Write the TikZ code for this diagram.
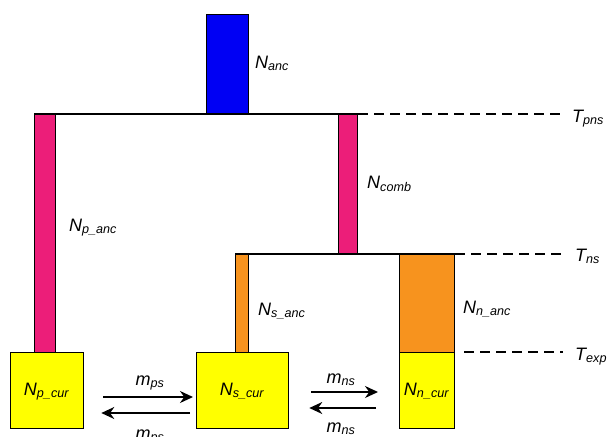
\documentclass[tikz,border=0pt]{standalone}
\usepackage{fontspec}
\setmainfont{Liberation Sans}
\usetikzlibrary{arrows.meta}
\definecolor{ancplava}{HTML}{0000F4}
\definecolor{roza}{HTML}{EC1E79}
\definecolor{narandzasta}{HTML}{F7931E}
\definecolor{zuta}{HTML}{FFFF00}
\newcommand{\popsym}[2]{\textit{#1\textsubscript{#2}}}

\begin{document}
\begin{tikzpicture}[
  x=1pt, y=-1pt,
  bar/.style={rectangle, draw=black, line width=1.3pt, inner sep=0pt, anchor=north west},
  lbl/.style={inner sep=0pt, anchor=base west, font=\fontsize{18}{21}\selectfont},
  mlbl/.style={inner sep=0pt, anchor=base, font=\fontsize{18}{21}\selectfont},
  veza/.style={line width=1.3pt},
  vreme/.style={line width=1.3pt, dash pattern=on 10pt off 6pt},
  mig/.style={line width=1.4pt, -{Stealth[length=13pt, width=12pt]}}
]
\useasboundingbox (0,0) rectangle (609,436);

% ancestral and intermediate populations
\node[bar, fill=ancplava, minimum width=42pt, minimum height=100pt] (anc) at (206,14) {};
\node[bar, fill=roza, minimum width=21pt, minimum height=238pt] (panc) at (34,114) {};
\node[bar, fill=roza, minimum width=19pt, minimum height=140pt] (comb) at (338,114) {};
\node[bar, fill=narandzasta, minimum width=13pt, minimum height=98pt] (sanc) at (235,254) {};
\node[bar, fill=narandzasta, minimum width=55pt, minimum height=98pt] (nanc) at (399,254) {};

% current populations
\node[bar, fill=zuta, minimum width=73pt, minimum height=76pt] (pcur) at (10,352) {};
\node[bar, fill=zuta, minimum width=92pt, minimum height=76pt] (scur) at (196,352) {};
\node[bar, fill=zuta, minimum width=55pt, minimum height=76pt] (ncur) at (399,352) {};

\draw[veza] (panc.north west) -- (comb.north east);
\draw[veza] (sanc.north west) -- (nanc.north east);

% labels
\node[lbl] (lanc) at (255,68) {\popsym{N}{anc}};
\node[lbl] (lpanc) at (69,231) {\popsym{N}{p\_anc}};
\node[lbl] (lcomb) at (367,188) {\popsym{N}{comb}};
\node[lbl] (lsanc) at (258,315) {\popsym{N}{s\_anc}};
\node[lbl] (lnanc) at (463,313) {\popsym{N}{n\_anc}};
\node[mlbl] (lpcur) at (46.5,395) {\popsym{N}{p\_cur}};
\node[mlbl] (lscur) at (242,395) {\popsym{N}{s\_cur}};
\node[mlbl] (lncur) at (426.5,395) {\popsym{N}{n\_cur}};

% times
\node[lbl] (tpns) at (572,122) {\popsym{T}{pns}};
\node[lbl] (tns) at (575,261) {\popsym{T}{ns}};
\node[lbl] (texp) at (575,360) {\popsym{T}{exp}};
\draw[vreme, shorten >=9pt] (comb.north east) -- (comb.north east -| tpns.west);
\draw[vreme, shorten >=12pt] (nanc.north east) -- (nanc.north east -| tns.west);
\draw[vreme, shorten <=9pt, shorten >=12pt] (ncur.north east) -- (ncur.north east -| texp.west);

% migration
\draw[mig, shorten <=19pt, shorten >=3pt] ([yshift=-45pt]pcur.north east) -- ([yshift=-45pt]scur.north west);
\draw[mig, shorten <=6pt, shorten >=17pt] ([yshift=-61pt]scur.north west) -- ([yshift=-61pt]pcur.north east);
\draw[mig, shorten <=22pt, shorten >=21pt] ([yshift=-40pt]scur.north east) -- ([yshift=-40pt]ncur.north west);
\draw[mig, shorten <=23pt, shorten >=20pt] ([yshift=-56pt]ncur.north west) -- ([yshift=-56pt]scur.north east);
\node[mlbl] (mps1) at (150,385) {\popsym{m}{ps}};
\node[mlbl] (mps2) at (150,439) {\popsym{m}{ps}};
\node[mlbl] (mns1) at (341,383) {\popsym{m}{ns}};
\node[mlbl] (mns2) at (341,432) {\popsym{m}{ns}};
\end{tikzpicture}
\end{document}
